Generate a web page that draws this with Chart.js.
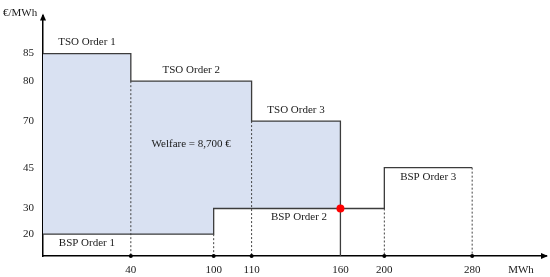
<!DOCTYPE html>
<html>
<head>
<meta charset="utf-8">
<script src="https://cdn.jsdelivr.net/npm/chart.js@4.4.0/dist/chart.umd.min.js"></script>
<style>
  html, body { margin: 0; padding: 0; background: #fff; }
  #wrap { width: 550px; height: 277px; }
</style>
</head>
<body>
<div id="wrap"><canvas id="chart"></canvas></div>
<script>
// Merit order: TSO demand orders vs BSP supply orders
const tsoLabels = ['TSO Order 1', 'TSO Order 2', 'TSO Order 3'];
const tsoVolumes = [40, 70, 50];
const tsoPrices = [85, 80, 70];

const bspLabels = ['BSP Order 1', 'BSP Order 2', 'BSP Order 3'];
const bspVolumes = [100, 100, 80];
const bspPrices = [20, 30, 45];

const clearVolume = 160;
const clearPrice = 30;
const welfareText = 'Welfare = 8,700 €';

const xTicks = [40, 100, 110, 160, 200, 280];
const yTicks = [20, 30, 45, 70, 80, 85];
const xTitle = 'MWh';
const yTitle = '€/MWh';

const X_MIN = 0, X_MAX = 330, Y_MIN = 10, Y_MAX = 100;

// the axes in the picture are schematic, not to scale: piecewise-linear mapping
const knotTable = {
    x: [[0, 0], [40, 0.1746], [100, 0.3393], [110, 0.4147], [160, 0.5913],
        [200, 0.6786], [280, 0.8532], [330, 1]],
    y: [[10, 0], [20, 0.0909], [30, 0.1976], [45, 0.3676], [70, 0.5613],
        [80, 0.7273], [85, 0.8419], [100, 1]]
};

class PiecewiseScale extends Chart.LinearScale {
    _knots() { return knotTable[this.axis]; }
    getPixelForValue(value) {
        if (value === null || isNaN(value)) return NaN;
        const k = this._knots();
        let f = k[k.length - 1][1];
        if (value <= k[0][0]) f = k[0][1];
        else {
            for (let i = 1; i < k.length; i++) {
                if (value <= k[i][0]) {
                    const [v0, f0] = k[i - 1], [v1, f1] = k[i];
                    f = f0 + (value - v0) / (v1 - v0) * (f1 - f0);
                    break;
                }
            }
        }
        return this.getPixelForDecimal(f);
    }
    getValueForPixel(pixel) {
        const f = this.getDecimalForPixel(pixel);
        const k = this._knots();
        for (let i = 1; i < k.length; i++) {
            if (f <= k[i][1]) {
                const [v0, f0] = k[i - 1], [v1, f1] = k[i];
                return v0 + (f - f0) / (f1 - f0) * (v1 - v0);
            }
        }
        return k[k.length - 1][0];
    }
}
PiecewiseScale.id = 'piecewise';
PiecewiseScale.defaults = Chart.LinearScale.defaults;
Chart.register(PiecewiseScale);

function cumulative(vols) {
    let s = 0;
    return vols.map(v => (s += v));
}

// corner points of a stepped order curve, optionally cut at a volume
function stepPoints(vols, prices, upTo = Infinity) {
    const pts = [];
    let start = 0;
    vols.forEach((v, i) => {
        if (start >= upTo) return;
        const end = Math.min(start + v, upTo);
        pts.push({ x: start, y: prices[i] }, { x: end, y: prices[i] });
        start += v;
    });
    return pts;
}

const tsoEnds = cumulative(tsoVolumes);
const bspEnds = cumulative(bspVolumes);

const lineColor = '#3c3c3c';
const textColor = '#1a1a1a';
const fontFamily = '"Liberation Serif", "DejaVu Serif", serif';

const datasets = [];

// welfare area between the two curves up to the clearing volume
datasets.push({
    data: stepPoints(tsoVolumes, tsoPrices, clearVolume),
    showLine: true, borderWidth: 0, pointRadius: 0,
    backgroundColor: '#d9e1f2',
    fill: { target: 1 },
    order: 10
});
datasets.push({
    data: stepPoints(bspVolumes, bspPrices, clearVolume),
    showLine: true, borderWidth: 0, pointRadius: 0, fill: false,
    order: 11
});

// dotted drop lines to the volume axis
const drops = [];
tsoEnds.slice(0, -1).forEach((x, i) => drops.push({ x, y: tsoPrices[i + 1] }));
bspEnds.forEach((x, i) => drops.push({ x, y: bspPrices[i] }));
drops.forEach(d => {
    datasets.push({
        data: [d, { x: d.x, y: Y_MIN }],
        showLine: true,
        borderColor: '#444',
        borderWidth: 1,
        borderDash: [2, 2],
        pointRadius: [0, 2],
        pointBackgroundColor: '#000',
        pointBorderWidth: 0,
        clip: false,
        order: 5
    });
});

// TSO demand curve, closed down to the axis at its end
datasets.push({
    data: stepPoints(tsoVolumes, tsoPrices).concat([{ x: tsoEnds[tsoEnds.length - 1], y: Y_MIN }]),
    showLine: true, borderColor: lineColor, borderWidth: 1.3, pointRadius: 0,
    clip: false, order: 2
});
// BSP supply curve
datasets.push({
    data: stepPoints(bspVolumes, bspPrices),
    showLine: true, borderColor: lineColor, borderWidth: 1.3, pointRadius: 0,
    clip: false, order: 2
});
// clearing point
datasets.push({
    data: [{ x: clearVolume, y: clearPrice }],
    pointRadius: 4, pointBackgroundColor: '#ff0000', pointBorderWidth: 0,
    clip: false, order: 0
});

const annotations = {
    id: 'annotations',
    afterDatasetsDraw(chart) {
        const { ctx, scales: { x, y }, chartArea } = chart;
        ctx.save();
        ctx.fillStyle = textColor;
        ctx.font = '11px ' + fontFamily;
        ctx.textAlign = 'center';
        ctx.textBaseline = 'middle';

        let start = 0;
        tsoLabels.forEach((t, i) => {
            const cx = (x.getPixelForValue(start) + x.getPixelForValue(tsoEnds[i])) / 2;
            ctx.fillText(t, cx, y.getPixelForValue(tsoPrices[i]) - 11);
            start = tsoEnds[i];
        });
        start = 0;
        bspLabels.forEach((t, i) => {
            // first label sits under the first TSO block
            const end = i === 0 ? tsoEnds[0] : bspEnds[i];
            const cx = (x.getPixelForValue(start) + x.getPixelForValue(end)) / 2;
            ctx.fillText(t, cx, y.getPixelForValue(bspPrices[i]) + 9);
            start = bspEnds[i];
        });

        const wx = (x.getPixelForValue(tsoEnds[0]) + x.getPixelForValue(tsoEnds[1])) / 2;
        const wy = (y.getPixelForValue(tsoPrices[1]) + y.getPixelForValue(bspPrices[1])) / 2 + 4;
        ctx.fillText(welfareText, wx, wy - 5);

        ctx.textAlign = 'left';
        ctx.fillText(yTitle, 3, 13);
        ctx.textAlign = 'center';
        ctx.fillText(xTitle, 521, chartArea.bottom + 14);

        // axis arrows
        ctx.fillStyle = '#000';
        ctx.beginPath();
        ctx.moveTo(chartArea.left, chartArea.top - 2);
        ctx.lineTo(chartArea.left - 3, chartArea.top + 5);
        ctx.lineTo(chartArea.left + 3, chartArea.top + 5);
        ctx.closePath();
        ctx.fill();
        ctx.beginPath();
        ctx.moveTo(chartArea.right + 2, chartArea.bottom);
        ctx.lineTo(chartArea.right - 5, chartArea.bottom - 3);
        ctx.lineTo(chartArea.right - 5, chartArea.bottom + 3);
        ctx.closePath();
        ctx.fill();
        ctx.restore();
    }
};

const tickFont = { family: fontFamily, size: 11 };

new Chart(document.getElementById('chart'), {
    type: 'scatter',
    data: { datasets },
    options: {
        responsive: true,
        maintainAspectRatio: false,
        animation: false,
        layout: { padding: { top: 3, right: 3, left: 0, bottom: 0 } },
        plugins: {
            legend: { display: false },
            tooltip: { enabled: false }
        },
        scales: {
            x: {
                type: 'piecewise',
                min: X_MIN, max: X_MAX,
                afterBuildTicks: s => { s.ticks = xTicks.map(v => ({ value: v })); },
                afterFit: s => { s.height = 21; },
                grid: { display: false, drawTicks: false },
                border: { display: true, color: '#000', width: 1.5 },
                ticks: {
                    color: textColor, font: tickFont, padding: 8,
                    maxRotation: 0, autoSkip: false,
                    callback: v => String(v)
                }
            },
            y: {
                type: 'piecewise',
                min: Y_MIN, max: Y_MAX,
                afterBuildTicks: s => { s.ticks = yTicks.map(v => ({ value: v })); },
                afterFit: s => { s.width = 43; },
                grid: { display: false, drawTicks: false },
                border: { display: true, color: '#000', width: 1.5 },
                ticks: {
                    color: textColor, font: tickFont, padding: 9,
                    autoSkip: false,
                    callback: v => String(v)
                }
            }
        }
    },
    plugins: [annotations]
});
</script>
</body>
</html>
